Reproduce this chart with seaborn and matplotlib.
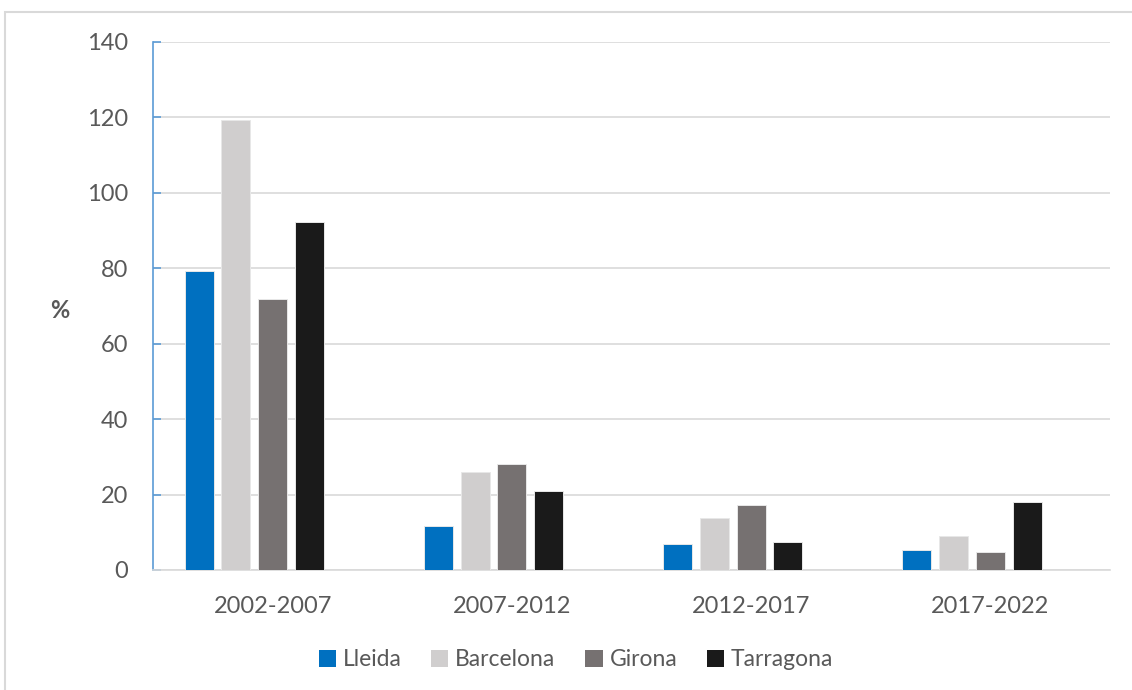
import numpy as np
import pandas as pd
import matplotlib
matplotlib.use('Agg')
import matplotlib.pyplot as plt
import seaborn as sns
from matplotlib.patches import Patch, Rectangle

# Data
periods = ['2002-2007', '2007-2012', '2012-2017', '2017-2022']
provinces = ['Lleida', 'Barcelona', 'Girona', 'Tarragona']
lleida = [79.3, 11.7, 6.8, 5.3]
barcelona = [119.3, 25.9, 13.8, 9.0]
girona = [71.9, 28.2, 17.3, 4.8]
tarragona = [92.3, 20.9, 7.4, 18.0]
colors = ['#0070C0', '#D0CECE', '#767171', '#1A1A1A']

df = pd.DataFrame({
    'Periode': periods * 4,
    'Provincia': np.repeat(provinces, len(periods)),
    'Valor': lleida + barcelona + girona + tarragona,
})
# the original chart keeps an empty fifth slot in every group
blank = pd.DataFrame({'Periode': periods, 'Provincia': ' ', 'Valor': 0.0})
df = pd.concat([df, blank], ignore_index=True)

sns.set_theme(style='white')
plt.rcParams['font.family'] = ['Lato', 'DejaVu Sans']
text_col = '#595959'

fig = plt.figure(figsize=(11.32, 6.9), dpi=100)
ax = fig.add_axes([153 / 1132, 1 - 570 / 690, (1110 - 153) / 1132, (570 - 42) / 690])

sns.barplot(data=df, x='Periode', y='Valor', hue='Provincia',
            hue_order=provinces + [' '], palette=colors + ['white'],
            saturation=1, width=0.767, gap=0.21, edgecolor='#e8e8e8', linewidth=0.7,
            legend=False, ax=ax, zorder=3)
for bar in ax.containers[4]:
    bar.set_visible(False)

ax.set_ylim(0, 140)
ax.set_yticks(range(0, 141, 20))
ax.set_xlim(-0.5, 3.5)
ax.grid(axis='y', color='#D9D9D9', linewidth=1.2, zorder=0)
ax.set_axisbelow(True)
for s in ['top', 'right']:
    ax.spines[s].set_visible(False)
ax.spines['left'].set_color('#5B9BD5')
ax.spines['left'].set_linewidth(1.2)
ax.spines['bottom'].set_color('#D9D9D9')
ax.spines['bottom'].set_linewidth(1.2)
ax.tick_params(axis='y', direction='in', length=6, width=1.2, color='#5B9BD5',
               pad=18, labelsize=17, labelcolor=text_col, left=True)
ax.tick_params(axis='x', length=0, pad=19, labelsize=17, labelcolor=text_col)
ax.set_xlabel('')
ax.set_ylabel('')

fig.text(60 / 1132, 1 - 310 / 690, '%', fontsize=17, fontweight='bold',
         color=text_col, ha='center', va='center')

handles = [Patch(facecolor=c, edgecolor='none') for c in colors]
fig.legend(handles, provinces, loc='center', bbox_to_anchor=(576 / 1132, 1 - 660 / 690),
           ncol=4, frameon=False, fontsize=16.5, labelcolor=text_col,
           handlelength=0.75, handleheight=0.75, handletextpad=0.3, columnspacing=1.3)

# light chart-area border (runs past right/bottom edge in the original)
fig.patches.append(Rectangle((5 / 1132, -0.1), 1.2, 1 - 12 / 690 + 0.1,
                             transform=fig.transFigure, fill=False,
                             edgecolor='#D9D9D9', linewidth=1.5))

fig.savefig('out.png', dpi=100)
